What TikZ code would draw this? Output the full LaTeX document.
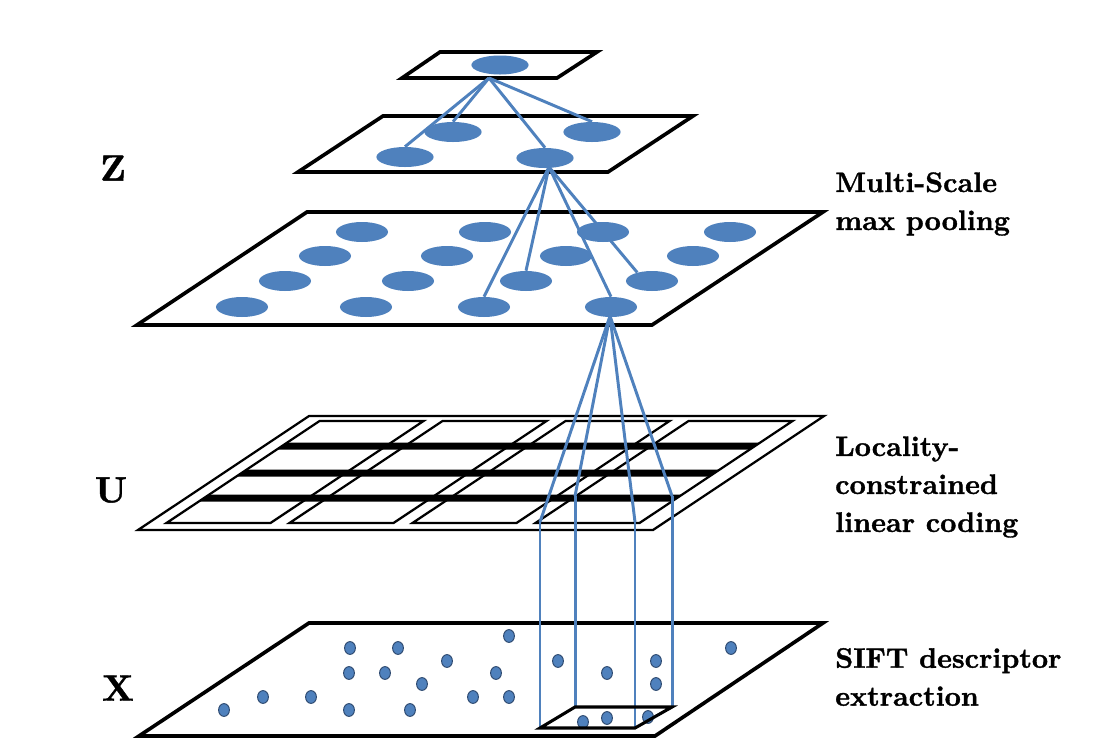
\documentclass[tikz,border=0pt]{standalone}
\usepackage{fontspec}
\usepackage{tikz}
\usetikzlibrary{%
  shapes.geometric,% ellipse
  positioning%
}
\definecolor{cblue}{HTML}{4F81BD}
\definecolor{cdark}{HTML}{2E4A70}
\newfontfamily\labelfont{lmroman10-bold.otf}[FakeBold=1.2]

\begin{document}
\begin{tikzpicture}[x=0.025cm,y=-0.025cm,
    plane/.style={draw,line width=2.6pt},
    grid/.style={draw,line width=1.6pt},
    blob/.style={ellipse,fill=cblue,inner sep=0,minimum width=1.3cm,minimum height=0.5cm},
    bigblob/.style={blob,minimum width=1.43cm},
    dot/.style={ellipse,fill=cblue,draw=cdark,line width=0.7pt,inner sep=0,minimum width=0.27cm,minimum height=0.32cm},
    link/.style={draw=cblue,line width=2.1pt},
    layer/.style={font=\fontsize{26}{30}\labelfont},
    lbl/.style={anchor=west,align=left,inner sep=0,font=\fontsize{20}{27}\labelfont}]
  \useasboundingbox (0,0) rectangle (1093,751);

  % planes
  \path [plane] (402,78) -- (557,78) -- (597,52) -- (440,52) -- cycle;
  \path [plane] (298,172) -- (608,172) -- (693,116) -- (383,116) -- cycle;
  \path [plane] (137,325) -- (652,325) -- (823,212) -- (307,212) -- cycle;
  \path [plane] (139,736) -- (655,736) -- (823,623) -- (309,623) -- cycle;

  % coding plane U
  \begin{scope}[shift={(138,530)},x={(0.025cm,0)},y={(0.0375cm,0.025cm)}]
    \path [grid] (0,0) -- (515,0) -- (515,114) -- (0,114) -- cycle;
    \path [grid] (18,7) -- (122,7) -- (122,109) -- (18,109) -- cycle;
    \path [grid] (141,7) -- (245,7) -- (245,109) -- (141,109) -- cycle;
    \path [grid] (264,7) -- (368,7) -- (368,109) -- (264,109) -- cycle;
    \path [grid] (387,7) -- (491,7) -- (491,109) -- (387,109) -- cycle;
    \fill (18,28.5) -- (491,28.5) -- (491,35.5) -- (18,35.5) -- cycle;
    \fill (18,53.5) -- (491,53.5) -- (491,60.5) -- (18,60.5) -- cycle;
    \fill (18,80.5) -- (491,80.5) -- (491,87.5) -- (18,87.5) -- cycle;
    \coordinate (u1) at (390,8);
    \coordinate (u2) at (485,8);
    \coordinate (u3) at (386,34);
    \coordinate (u4) at (483,34);
  \end{scope}

  % pooled codes
  \node[bigblob,minimum height=0.475cm] (ztop) at (500,65) {};
  \node[bigblob] (z1) at (405,157) {};
  \node[bigblob] (z2) at (545,158) {};
  \node[bigblob] (z3) at (453,132) {};
  \node[bigblob] (z4) at (592,132) {};

  \node[blob] (p11) at (362,232) {};
  \node[blob] (p12) at (485,232) {};
  \node[blob] (p13) at (603,232) {};
  \node[blob] (p14) at (730,232) {};
  \node[blob] (p21) at (325,256) {};
  \node[blob] (p22) at (447,256) {};
  \node[blob] (p23) at (566,256) {};
  \node[blob] (p24) at (693,256) {};
  \node[blob] (p31) at (285,281) {};
  \node[blob] (p32) at (408,281) {};
  \node[blob] (p33) at (526,281) {};
  \node[blob] (p34) at (652,281) {};
  \node[blob] (p41) at (242,307) {};
  \node[blob] (p42) at (366,307) {};
  \node[blob] (p43) at (484,307) {};
  \node[blob] (p44) at (611,307) {};

  % descriptors X
  \node[dot] (d1) at (509,636) {};
  \node[dot] (d2) at (350,648) {};
  \node[dot] (d3) at (398,648) {};
  \node[dot] (d4) at (731,648) {};
  \node[dot] (d5) at (447,661) {};
  \node[dot] (d6) at (558,661) {};
  \node[dot] (d7) at (656,661) {};
  \node[dot] (d8) at (349,673) {};
  \node[dot] (d9) at (385,673) {};
  \node[dot] (d10) at (496,673) {};
  \node[dot] (d11) at (607,673) {};
  \node[dot] (d12) at (422,684) {};
  \node[dot] (d13) at (656,684) {};
  \node[dot] (d14) at (263,697) {};
  \node[dot] (d15) at (311,697) {};
  \node[dot] (d16) at (473,697) {};
  \node[dot] (d17) at (509,697) {};
  \node[dot] (d18) at (224,710) {};
  \node[dot] (d19) at (349,710) {};
  \node[dot] (d20) at (410,710) {};
  \node[dot] (d21) at (583,722) {};
  \node[dot] (d22) at (607,718) {};
  \node[dot] (d23) at (648,717) {};

  \coordinate (tf) at (489,78);
  \coordinate (mf) at (549,167);
  \coordinate (pf) at (610,316);
  \coordinate (xlow) at (0,728);
  \coordinate (xhigh) at (0,707);

  \path [link] (tf) -- (z1.north);
  \path [link] (tf) -- (z3.north);
  \path [link] (tf) -- (z2.north);
  \path [link] (tf) -- (z4.north);
  \path [link] (mf) -- (p43.north);
  \path [link] (mf) -- (p33.north);
  \path [link] (mf) -- (p44.north);
  \path [link] (mf) -- (p34.150);
  \path [link] (pf) -- (u1);
  \path [link] (pf) -- (u2);
  \path [link] (pf) -- (u3);
  \path [link] (pf) -- (u4);
  \path [link] (u1) -- (u1 |- xlow);
  \path [link] (u2) -- (u2 |- xlow);
  \path [link] (u3) -- (u3 |- xhigh);
  \path [link] (u4) -- (u4 |- xhigh);
  \path [draw,line width=2.2pt] (u1 |- xlow) -- (u2 |- xlow) -- (u4 |- xhigh) -- (u3 |- xhigh) -- cycle;

  % labels
  \node[layer] (zl) at (113,168) {Z};
  \node[layer] (ul) at (111,490) {U};
  \node[layer] (xl) at (118,688) {X};
  \node[lbl] (pool) at (835,204) {Multi-Scale\\max pooling};
  \node[lbl] (llc) at (835,487) {Locality-\\constrained\\linear coding};
  \node[lbl] (sift) at (835,677) {SIFT descriptor\\extraction};
\end{tikzpicture}
\end{document}
